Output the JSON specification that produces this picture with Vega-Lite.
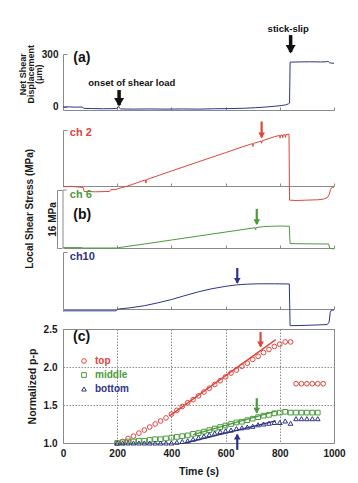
{
  "$schema": "https://vega.github.io/schema/vega-lite/v6.json",
  "padding": {"left": 18, "top": 24, "right": 5, "bottom": 5},
  "bounds": "flush",
  "spacing": 0,
  "config": {
    "view": {"stroke": null},
    "font": "Liberation Sans",
    "axis": {"domainColor": "#8a8a8a", "tickColor": "#8a8a8a", "labelFont": "Liberation Sans", "labelFontWeight": "bold", "labelColor": "#1a1a1a", "labelFontSize": 10, "titleFont": "Liberation Sans", "titleFontWeight": "bold", "titleColor": "#1a1a1a", "titleFontSize": 10, "grid": false, "labelFlush": false},
    "text": {"font": "Liberation Sans", "fontWeight": "bold"},
    "legend": {"labelFont": "Liberation Sans"}
  },
  "datasets": {
    "disp": [
      {"t": 0, "d": 0}, {"t": 20, "d": 1}, {"t": 45, "d": -1}, {"t": 70, "d": 0}, {"t": 78, "d": -8}, {"t": 110, "d": -9}, {"t": 150, "d": -10}, {"t": 198, "d": -9}, {"t": 204, "d": 3}, {"t": 212, "d": -11}, {"t": 260, "d": -12}, {"t": 320, "d": -11}, {"t": 380, "d": -12}, {"t": 440, "d": -11}, {"t": 500, "d": -12}, {"t": 560, "d": -10}, {"t": 620, "d": -9}, {"t": 670, "d": -7}, {"t": 710, "d": -4}, {"t": 750, "d": 0}, {"t": 780, "d": 4}, {"t": 805, "d": 8}, {"t": 822, "d": 12}, {"t": 832, "d": 18}, {"t": 836, "d": 22}, {"t": 838, "d": 254}, {"t": 870, "d": 255}, {"t": 910, "d": 256}, {"t": 950, "d": 255}, {"t": 972, "d": 256}, {"t": 978, "d": 259}, {"t": 984, "d": 250}, {"t": 1000, "d": 247}
    ],
    "ch2": [
      {"t": 0, "s": -0.2}, {"t": 30, "s": -0.1}, {"t": 60, "s": -0.3}, {"t": 74, "s": -0.4}, {"t": 78, "s": -1.5}, {"t": 120, "s": -1.6}, {"t": 172, "s": -1.5}, {"t": 176, "s": -1.0}, {"t": 196, "s": -1.0}, {"t": 200, "s": -0.8}, {"t": 215, "s": -0.5}, {"t": 238, "s": 0.0}, {"t": 270, "s": 0.8}, {"t": 304, "s": 1.68}, {"t": 306, "s": 0.8}, {"t": 308, "s": 1.75}, {"t": 350, "s": 2.85}, {"t": 400, "s": 4.13}, {"t": 450, "s": 5.4}, {"t": 500, "s": 6.68}, {"t": 550, "s": 7.95}, {"t": 600, "s": 9.2}, {"t": 650, "s": 10.5}, {"t": 699, "s": 11.7}, {"t": 701, "s": 10.9}, {"t": 703, "s": 11.75}, {"t": 731, "s": 12.4}, {"t": 733, "s": 11.8}, {"t": 735, "s": 12.45}, {"t": 760, "s": 13.1}, {"t": 780, "s": 13.6}, {"t": 799, "s": 13.95}, {"t": 801, "s": 13.2}, {"t": 803, "s": 14.0}, {"t": 809, "s": 14.05}, {"t": 811, "s": 13.3}, {"t": 813, "s": 14.1}, {"t": 819, "s": 14.15}, {"t": 821, "s": 13.4}, {"t": 823, "s": 14.2}, {"t": 834, "s": 14.3}, {"t": 836, "s": -3.9}, {"t": 860, "s": -4.0}, {"t": 900, "s": -3.9}, {"t": 940, "s": -3.8}, {"t": 962, "s": -3.6}, {"t": 975, "s": -3.2}, {"t": 982, "s": -2.4}, {"t": 987, "s": -1.0}, {"t": 992, "s": -0.4}, {"t": 1000, "s": -0.3}
    ],
    "ch6": [
      {"t": 0, "s": 0.1}, {"t": 70, "s": 0.1}, {"t": 74, "s": 0.0}, {"t": 200, "s": 0.0}, {"t": 205, "s": 0.1}, {"t": 300, "s": 1.1}, {"t": 400, "s": 2.2}, {"t": 500, "s": 3.3}, {"t": 600, "s": 4.4}, {"t": 709, "s": 5.6}, {"t": 711, "s": 5.0}, {"t": 713, "s": 5.65}, {"t": 740, "s": 5.9}, {"t": 770, "s": 6.0}, {"t": 800, "s": 6.05}, {"t": 835, "s": 6.0}, {"t": 838, "s": 1.2}, {"t": 900, "s": 1.15}, {"t": 980, "s": 1.1}, {"t": 984, "s": 0.0}, {"t": 990, "s": -0.2}, {"t": 1000, "s": -0.2}
    ],
    "ch10": [
      {"t": 0, "s": -0.5}, {"t": 196, "s": -0.5}, {"t": 200, "s": -0.2}, {"t": 205, "s": 0.0}, {"t": 250, "s": 0.35}, {"t": 300, "s": 0.9}, {"t": 350, "s": 1.7}, {"t": 400, "s": 2.6}, {"t": 450, "s": 3.7}, {"t": 500, "s": 4.75}, {"t": 550, "s": 5.6}, {"t": 600, "s": 6.25}, {"t": 640, "s": 6.65}, {"t": 680, "s": 6.85}, {"t": 720, "s": 6.95}, {"t": 780, "s": 6.95}, {"t": 835, "s": 6.9}, {"t": 838, "s": -4.6}, {"t": 900, "s": -4.5}, {"t": 975, "s": -4.3}, {"t": 982, "s": -3.6}, {"t": 986, "s": -1.0}, {"t": 990, "s": -0.3}, {"t": 1000, "s": -0.3}
    ],
    "pp": [
      {"series": "top", "t": 200, "v": 1.0}, {"series": "top", "t": 220, "v": 1.02}, {"series": "top", "t": 240, "v": 1.06}, {"series": "top", "t": 260, "v": 1.09}, {"series": "top", "t": 280, "v": 1.13}, {"series": "top", "t": 300, "v": 1.17}, {"series": "top", "t": 320, "v": 1.21}, {"series": "top", "t": 340, "v": 1.25}, {"series": "top", "t": 360, "v": 1.29}, {"series": "top", "t": 380, "v": 1.33}, {"series": "top", "t": 400, "v": 1.38}, {"series": "top", "t": 420, "v": 1.43}, {"series": "top", "t": 440, "v": 1.48}, {"series": "top", "t": 460, "v": 1.53}, {"series": "top", "t": 480, "v": 1.57}, {"series": "top", "t": 500, "v": 1.62}, {"series": "top", "t": 520, "v": 1.67}, {"series": "top", "t": 540, "v": 1.72}, {"series": "top", "t": 560, "v": 1.77}, {"series": "top", "t": 580, "v": 1.82}, {"series": "top", "t": 600, "v": 1.87}, {"series": "top", "t": 620, "v": 1.92}, {"series": "top", "t": 640, "v": 1.96}, {"series": "top", "t": 660, "v": 2.01}, {"series": "top", "t": 680, "v": 2.05}, {"series": "top", "t": 700, "v": 2.1}, {"series": "top", "t": 720, "v": 2.14}, {"series": "top", "t": 740, "v": 2.19}, {"series": "top", "t": 760, "v": 2.23}, {"series": "top", "t": 780, "v": 2.27}, {"series": "top", "t": 800, "v": 2.3}, {"series": "top", "t": 820, "v": 2.33}, {"series": "top", "t": 840, "v": 2.33}, {"series": "top", "t": 860, "v": 1.78}, {"series": "top", "t": 880, "v": 1.78}, {"series": "top", "t": 900, "v": 1.78}, {"series": "top", "t": 920, "v": 1.78}, {"series": "top", "t": 940, "v": 1.78}, {"series": "top", "t": 960, "v": 1.78},
      {"series": "middle", "t": 200, "v": 1.0}, {"series": "middle", "t": 220, "v": 1.01}, {"series": "middle", "t": 240, "v": 1.02}, {"series": "middle", "t": 260, "v": 1.02}, {"series": "middle", "t": 280, "v": 1.03}, {"series": "middle", "t": 300, "v": 1.03}, {"series": "middle", "t": 320, "v": 1.04}, {"series": "middle", "t": 340, "v": 1.05}, {"series": "middle", "t": 360, "v": 1.05}, {"series": "middle", "t": 380, "v": 1.06}, {"series": "middle", "t": 400, "v": 1.07}, {"series": "middle", "t": 420, "v": 1.08}, {"series": "middle", "t": 440, "v": 1.09}, {"series": "middle", "t": 460, "v": 1.1}, {"series": "middle", "t": 480, "v": 1.12}, {"series": "middle", "t": 500, "v": 1.13}, {"series": "middle", "t": 520, "v": 1.15}, {"series": "middle", "t": 540, "v": 1.17}, {"series": "middle", "t": 560, "v": 1.19}, {"series": "middle", "t": 580, "v": 1.21}, {"series": "middle", "t": 600, "v": 1.23}, {"series": "middle", "t": 620, "v": 1.25}, {"series": "middle", "t": 640, "v": 1.27}, {"series": "middle", "t": 660, "v": 1.28}, {"series": "middle", "t": 680, "v": 1.3}, {"series": "middle", "t": 700, "v": 1.32}, {"series": "middle", "t": 720, "v": 1.34}, {"series": "middle", "t": 740, "v": 1.36}, {"series": "middle", "t": 760, "v": 1.37}, {"series": "middle", "t": 780, "v": 1.39}, {"series": "middle", "t": 800, "v": 1.4}, {"series": "middle", "t": 820, "v": 1.41}, {"series": "middle", "t": 840, "v": 1.4}, {"series": "middle", "t": 860, "v": 1.4}, {"series": "middle", "t": 880, "v": 1.4}, {"series": "middle", "t": 900, "v": 1.4}, {"series": "middle", "t": 920, "v": 1.4}, {"series": "middle", "t": 940, "v": 1.4},
      {"series": "bottom", "t": 200, "v": 1.0}, {"series": "bottom", "t": 220, "v": 1.0}, {"series": "bottom", "t": 240, "v": 1.0}, {"series": "bottom", "t": 260, "v": 1.0}, {"series": "bottom", "t": 280, "v": 1.0}, {"series": "bottom", "t": 300, "v": 1.0}, {"series": "bottom", "t": 320, "v": 1.0}, {"series": "bottom", "t": 340, "v": 1.0}, {"series": "bottom", "t": 360, "v": 1.0}, {"series": "bottom", "t": 380, "v": 1.0}, {"series": "bottom", "t": 400, "v": 1.0}, {"series": "bottom", "t": 420, "v": 1.01}, {"series": "bottom", "t": 440, "v": 1.02}, {"series": "bottom", "t": 460, "v": 1.03}, {"series": "bottom", "t": 480, "v": 1.05}, {"series": "bottom", "t": 500, "v": 1.07}, {"series": "bottom", "t": 520, "v": 1.09}, {"series": "bottom", "t": 540, "v": 1.11}, {"series": "bottom", "t": 560, "v": 1.13}, {"series": "bottom", "t": 580, "v": 1.15}, {"series": "bottom", "t": 600, "v": 1.16}, {"series": "bottom", "t": 620, "v": 1.17}, {"series": "bottom", "t": 640, "v": 1.19}, {"series": "bottom", "t": 660, "v": 1.2}, {"series": "bottom", "t": 680, "v": 1.21}, {"series": "bottom", "t": 700, "v": 1.22}, {"series": "bottom", "t": 720, "v": 1.24}, {"series": "bottom", "t": 740, "v": 1.25}, {"series": "bottom", "t": 760, "v": 1.26}, {"series": "bottom", "t": 780, "v": 1.27}, {"series": "bottom", "t": 800, "v": 1.27}, {"series": "bottom", "t": 820, "v": 1.29}, {"series": "bottom", "t": 840, "v": 1.26}, {"series": "bottom", "t": 860, "v": 1.32}, {"series": "bottom", "t": 880, "v": 1.32}, {"series": "bottom", "t": 900, "v": 1.32}, {"series": "bottom", "t": 920, "v": 1.32}, {"series": "bottom", "t": 940, "v": 1.32}
    ],
    "fitTop": [{"t": 395, "v": 1.36}, {"t": 785, "v": 2.36}],
    "fitMid": [{"t": 480, "v": 1.11}, {"t": 785, "v": 1.42}],
    "fitBot": [{"t": 450, "v": 1.0}, {"t": 785, "v": 1.29}]
  },
  "vconcat": [
    {
      "width": 271, "height": 56,
      "encoding": {
        "x": {"field": "t", "type": "quantitative", "scale": {"domain": [0, 1000], "nice": false}, "axis": {"values": [200, 400, 600, 800, 1000], "labels": false, "tickSize": -3, "title": null}},
        "y": {"field": "d", "type": "quantitative", "scale": {"domain": [-17, 300], "nice": false, "zero": false}, "axis": {"values": [0, 300], "tickSize": -4, "labelPadding": 9, "title": null}}
      },
      "layer": [
        {"data": {"name": "disp"}, "mark": {"type": "line", "color": "#2d3485", "strokeWidth": 1}},
        {"data": {"values": [{"t": 207, "d": 96, "d2": 11}, {"t": 840, "d": 407, "d2": 311}]}, "mark": {"type": "rule", "color": "#111111", "strokeWidth": 3.5}, "encoding": {"y2": {"field": "d2"}}},
        {"data": {"values": [{"t": 207, "d": 11}, {"t": 840, "d": 311}]}, "mark": {"type": "point", "shape": "triangle-down", "filled": true, "color": "#111111", "opacity": 1, "size": 100, "yOffset": -2.8}},
        {"data": {"values": [{"t": 831, "d": 441, "label": "stick-slip"}, {"t": 254, "d": 136, "label": "onset of shear load"}]}, "mark": {"type": "text", "fontSize": 9.5, "color": "#111111"}, "encoding": {"text": {"field": "label"}}},
        {"data": {"values": [{"t": 38, "d": 277, "label": "(a)"}]}, "mark": {"type": "text", "fontSize": 14, "align": "left", "color": "#111111"}, "encoding": {"text": {"field": "label"}}},
        {"data": {"values": [{"t": -149, "d": 185, "label": "Net Shear"}, {"t": -118, "d": 185, "label": "Displacement"}, {"t": -87, "d": 185, "label": "(μm)"}]}, "mark": {"type": "text", "fontSize": 9, "angle": 270, "align": "center", "baseline": "middle", "color": "#1a1a1a"}, "encoding": {"text": {"field": "label"}}}
      ]
    },
    {
      "width": 271, "height": 76,
      "encoding": {
        "x": {"field": "t", "type": "quantitative", "scale": {"domain": [0, 1000], "nice": false}, "axis": {"values": [200, 400, 600, 800, 1000], "labels": false, "tickSize": -3, "title": null}},
        "y": {"field": "s", "type": "quantitative", "scale": {"domain": [0, 15.45], "range": [76, 20], "nice": false, "zero": false}, "axis": {"values": [15.45], "labels": false, "tickSize": -4, "title": null}}
      },
      "layer": [
        {"data": {"name": "ch2"}, "mark": {"type": "line", "color": "#e0443c", "strokeWidth": 1}},
        {"data": {"values": [{"t": 733, "s": 17.8, "s2": 13.4}]}, "mark": {"type": "rule", "color": "#e0443c", "strokeWidth": 2.2}, "encoding": {"y2": {"field": "s2"}}},
        {"data": {"values": [{"t": 733, "s": 13.4}]}, "mark": {"type": "point", "shape": "triangle-down", "filled": true, "color": "#e0443c", "opacity": 1, "size": 45, "yOffset": -2}},
        {"data": {"values": [{"t": 25, "s": 14.6, "label": "ch 2"}]}, "mark": {"type": "text", "fontSize": 11, "align": "left", "color": "#e0443c"}, "encoding": {"text": {"field": "label"}}}
      ]
    },
    {
      "width": 271, "height": 62,
      "encoding": {
        "x": {"field": "t", "type": "quantitative", "scale": {"domain": [0, 1000], "nice": false}, "axis": {"values": [200, 400, 600, 800, 1000], "labels": false, "tickSize": -3, "title": null}},
        "y": {"field": "s", "type": "quantitative", "scale": {"domain": [0, 16], "range": [62, 4], "nice": false, "zero": false}, "axis": {"values": [0, 16], "labels": false, "tickSize": -5, "offset": 6, "title": "16 MPa", "titlePadding": -1}}
      },
      "layer": [
        {"data": {"name": "ch6"}, "mark": {"type": "line", "color": "#4a9b3c", "strokeWidth": 1}},
        {"data": {"values": [{"t": 0, "s": 0, "s2": 16}]}, "mark": {"type": "rule", "color": "#8a8a8a", "strokeWidth": 1}, "encoding": {"y2": {"field": "s2"}}},
        {"data": {"values": [{"t": 0, "t2": 14, "s": 16}]}, "mark": {"type": "rule", "color": "#8a8a8a", "strokeWidth": 1}, "encoding": {"x2": {"field": "t2"}}},
        {"data": {"values": [{"t": 715, "s": 10.8, "s2": 6.6}]}, "mark": {"type": "rule", "color": "#4a9b3c", "strokeWidth": 2.2}, "encoding": {"y2": {"field": "s2"}}},
        {"data": {"values": [{"t": 715, "s": 6.6}]}, "mark": {"type": "point", "shape": "triangle-down", "filled": true, "color": "#4a9b3c", "opacity": 1, "size": 45, "yOffset": -2}},
        {"data": {"values": [{"t": 25, "s": 14.6, "label": "ch 6"}]}, "mark": {"type": "text", "fontSize": 11, "align": "left", "color": "#4a9b3c"}, "encoding": {"text": {"field": "label"}}},
        {"data": {"values": [{"t": 38, "s": 9.0, "label": "(b)"}]}, "mark": {"type": "text", "fontSize": 14, "align": "left", "color": "#111111"}, "encoding": {"text": {"field": "label"}}},
        {"data": {"values": [{"t": -122, "s": 10.8, "label": "Local Shear Stress (MPa)"}]}, "mark": {"type": "text", "fontSize": 10, "angle": 270, "align": "center", "baseline": "middle", "color": "#1a1a1a"}, "encoding": {"text": {"field": "label"}}}
      ]
    },
    {
      "width": 271, "height": 81,
      "encoding": {
        "x": {"field": "t", "type": "quantitative", "scale": {"domain": [0, 1000], "nice": false}, "axis": {"values": [200, 400, 600, 800, 1000], "labels": false, "tickSize": -3, "offset": -20, "title": null}},
        "y": {"field": "s", "type": "quantitative", "scale": {"domain": [0, 15.72], "range": [61, 4], "nice": false, "zero": false}, "axis": {"values": [15.72], "labels": false, "tickSize": -4, "title": null}}
      },
      "layer": [
        {"data": {"name": "ch10"}, "mark": {"type": "line", "color": "#2d3485", "strokeWidth": 1}},
        {"data": {"values": [{"t": 643, "s": 11.3, "s2": 7.2}]}, "mark": {"type": "rule", "color": "#2d3485", "strokeWidth": 2.2}, "encoding": {"y2": {"field": "s2"}}},
        {"data": {"values": [{"t": 643, "s": 7.2}]}, "mark": {"type": "point", "shape": "triangle-down", "filled": true, "color": "#2d3485", "opacity": 1, "size": 45, "yOffset": -2}},
        {"data": {"values": [{"t": 25, "s": 14.3, "label": "ch10"}]}, "mark": {"type": "text", "fontSize": 11, "align": "left", "color": "#2d3485"}, "encoding": {"text": {"field": "label"}}}
      ]
    },
    {
      "width": 271, "height": 114,
      "view": {"stroke": "#8a8a8a"},
      "encoding": {
        "x": {"field": "t", "type": "quantitative", "scale": {"domain": [0, 1000], "nice": false}, "axis": {"values": [0, 200, 400, 600, 800, 1000], "format": "d", "grid": true, "gridDash": [1.5, 1.5], "gridColor": "#8a8a8a", "ticks": false, "domain": false, "labelPadding": 5, "title": "Time (s)", "titlePadding": 8, "titleFontSize": 10.5}},
        "y": {"field": "v", "type": "quantitative", "scale": {"domain": [1, 2.5], "nice": false, "zero": false}, "axis": {"values": [1, 1.5, 2, 2.5], "format": ".1f", "grid": true, "gridDash": [1.5, 1.5], "gridColor": "#8a8a8a", "ticks": false, "domain": false, "labelPadding": 6, "title": "Normalized p-p", "titlePadding": 6, "titleFontSize": 10.5}}
      },
      "layer": [
        {"data": {"name": "fitTop"}, "mark": {"type": "line", "strokeWidth": 1.3, "color": "#e0443c"}},
        {"data": {"name": "fitMid"}, "mark": {"type": "line", "strokeWidth": 1.3, "color": "#4a9b3c"}},
        {"data": {"name": "fitBot"}, "mark": {"type": "line", "strokeWidth": 1.3, "color": "#2d3485"}},
        {"data": {"name": "pp"}, "mark": {"type": "point", "filled": false, "size": 22, "strokeWidth": 1, "opacity": 1},
         "encoding": {
           "color": {"field": "series", "type": "nominal", "scale": {"domain": ["top", "middle", "bottom"], "range": ["#e0443c", "#4a9b3c", "#2d3485"]}, "legend": {"orient": "none", "legendX": 16, "legendY": 302, "title": null, "labelFontWeight": "bold", "labelFontSize": 10, "symbolSize": 22, "symbolStrokeWidth": 1, "rowPadding": 4, "labelOffset": 6, "padding": 0, "labelColor": {"expr": "datum.value === 'top' ? '#e0443c' : datum.value === 'middle' ? '#4a9b3c' : '#2d3485'"}}},
           "shape": {"field": "series", "type": "nominal", "scale": {"domain": ["top", "middle", "bottom"], "range": ["circle", "square", "triangle-up"]}, "legend": {"orient": "none", "legendX": 16, "legendY": 302, "title": null, "labelFontWeight": "bold", "labelFontSize": 10, "symbolSize": 22, "symbolStrokeWidth": 1, "rowPadding": 4, "labelOffset": 6, "padding": 0, "labelColor": {"expr": "datum.value === 'top' ? '#e0443c' : datum.value === 'middle' ? '#4a9b3c' : '#2d3485'"}}}
         }},
        {"data": {"values": [{"t": 729, "v": 2.46, "v2": 2.27}]}, "mark": {"type": "rule", "strokeWidth": 2.2, "color": "#e0443c"}, "encoding": {"y2": {"field": "v2"}}},
        {"data": {"values": [{"t": 729, "v": 2.27}]}, "mark": {"type": "point", "shape": "triangle-down", "filled": true, "color": "#e0443c", "opacity": 1, "size": 45, "yOffset": -2}},
        {"data": {"values": [{"t": 715, "v": 1.59, "v2": 1.4}]}, "mark": {"type": "rule", "strokeWidth": 2.2, "color": "#4a9b3c"}, "encoding": {"y2": {"field": "v2"}}},
        {"data": {"values": [{"t": 715, "v": 1.4}]}, "mark": {"type": "point", "shape": "triangle-down", "filled": true, "color": "#4a9b3c", "opacity": 1, "size": 45, "yOffset": -2}},
        {"data": {"values": [{"t": 643, "v": 0.91, "v2": 1.11}]}, "mark": {"type": "rule", "strokeWidth": 2.2, "color": "#2d3485"}, "encoding": {"y2": {"field": "v2"}}},
        {"data": {"values": [{"t": 643, "v": 1.11}]}, "mark": {"type": "point", "shape": "triangle-up", "filled": true, "color": "#2d3485", "opacity": 1, "size": 45, "yOffset": 2}},
        {"data": {"values": [{"t": 37, "v": 2.39, "label": "(c)"}]}, "mark": {"type": "text", "fontSize": 14, "align": "left", "color": "#111111"}, "encoding": {"text": {"field": "label"}}}
      ]
    }
  ]
}
